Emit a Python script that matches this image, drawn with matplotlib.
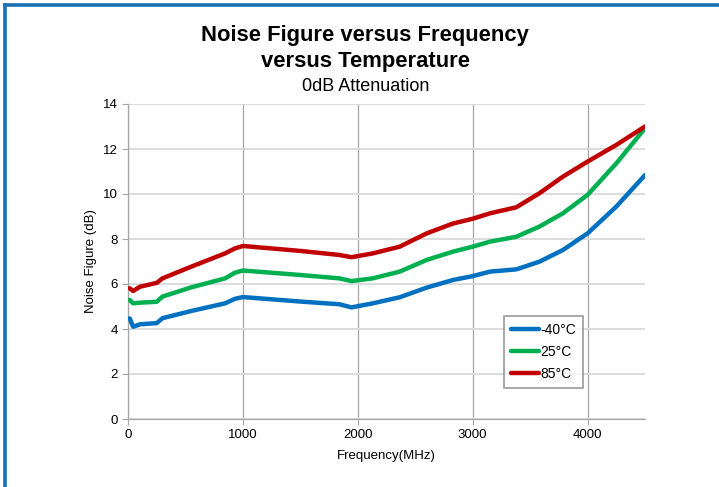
import matplotlib
matplotlib.use("Agg")
import matplotlib.pyplot as plt
from matplotlib.lines import Line2D

plt.rcParams['font.family'] = ['Liberation Sans', 'DejaVu Sans']

# data
freq = [15, 45, 105, 250, 300, 550, 845, 930, 1000, 1500, 1840, 1945,
        2130, 2365, 2600, 2830, 3000, 3150, 3380, 3580, 3785, 4000, 4250, 4500]
nf_m40 = [4.47, 4.10, 4.21, 4.26, 4.48, 4.80, 5.14, 5.34, 5.42, 5.22, 5.10, 4.96,
          5.14, 5.41, 5.84, 6.18, 6.35, 6.55, 6.65, 6.99, 7.51, 8.25, 9.44, 10.84]
nf_25 = [5.29, 5.14, 5.17, 5.21, 5.44, 5.85, 6.25, 6.50, 6.60, 6.40, 6.25, 6.13,
         6.25, 6.55, 7.07, 7.44, 7.66, 7.88, 8.10, 8.55, 9.14, 9.96, 11.36, 12.92]
nf_85 = [5.81, 5.69, 5.88, 6.05, 6.25, 6.77, 7.36, 7.58, 7.69, 7.47, 7.29, 7.19,
         7.36, 7.66, 8.25, 8.69, 8.90, 9.14, 9.41, 10.03, 10.77, 11.44, 12.18, 13.00]
labels = ['-40°C', '25°C', '85°C']
colors = ['#0070C0', '#00B050', '#C00000']
xticks = [0, 1000, 2000, 3000, 4000]
yticks = [0, 2, 4, 6, 8, 10, 12, 14]

fig = plt.figure(figsize=(7.19, 4.87), dpi=100)
ax = fig.add_axes([128 / 719, 1 - 419 / 487, 517 / 719, 315 / 487])

for ys, lab, c in zip([nf_m40, nf_25, nf_85], labels, colors):
    ax.plot(freq, ys, color=c, lw=3.2, label=lab,
            solid_joinstyle='round', solid_capstyle='round', zorder=3)

ax.set_xlim(0, 4500)
ax.set_ylim(0, 14)
ax.set_xticks(xticks)
ax.set_yticks(yticks)
ax.yaxis.grid(True, color='#d9d9d9', lw=1.3)
ax.xaxis.grid(True, color='#a6a6a6', lw=0.9)
ax.set_axisbelow(True)
for s in ['top', 'right']:
    ax.spines[s].set_visible(False)
for s in ['left', 'bottom']:
    ax.spines[s].set_color('#a6a6a6')
    ax.spines[s].set_linewidth(0.9)
ax.tick_params(axis='both', colors='#a6a6a6', labelcolor='black',
               labelsize=9.5, length=4)
ax.set_xlabel('Frequency(MHz)', fontsize=9.5, labelpad=6)
ax.set_ylabel('Noise Figure (dB)', fontsize=9.5, labelpad=4)

leg = ax.legend(loc='lower left', bbox_to_anchor=(0.727, 0.098),
                fontsize=10, frameon=True, fancybox=False,
                handlelength=2.0, handletextpad=0.1, borderpad=0.5,
                labelspacing=0.6, borderaxespad=0)
leg.get_frame().set_edgecolor('#808080')
leg.get_frame().set_linewidth(1.2)

fig.text(0.508, 1 - 36 / 487, 'Noise Figure versus Frequency', ha='center',
         va='center', fontsize=15.8, fontweight='bold')
fig.text(0.508, 1 - 62 / 487, 'versus Temperature', ha='center',
         va='center', fontsize=15.8, fontweight='bold')
fig.text(0.508, 1 - 86 / 487, '0dB Attenuation', ha='center',
         va='center', fontsize=13)

# blue frame on left and top edges
fig.add_artist(Line2D([5 / 719, 5 / 719], [0, 1 - 5 / 487], color='#1B6FB3',
                      lw=2.6, transform=fig.transFigure))
fig.add_artist(Line2D([5 / 719, 1], [1 - 5 / 487, 1 - 5 / 487], color='#1B6FB3',
                      lw=2.6, transform=fig.transFigure))

fig.savefig('out.png', dpi=100)
